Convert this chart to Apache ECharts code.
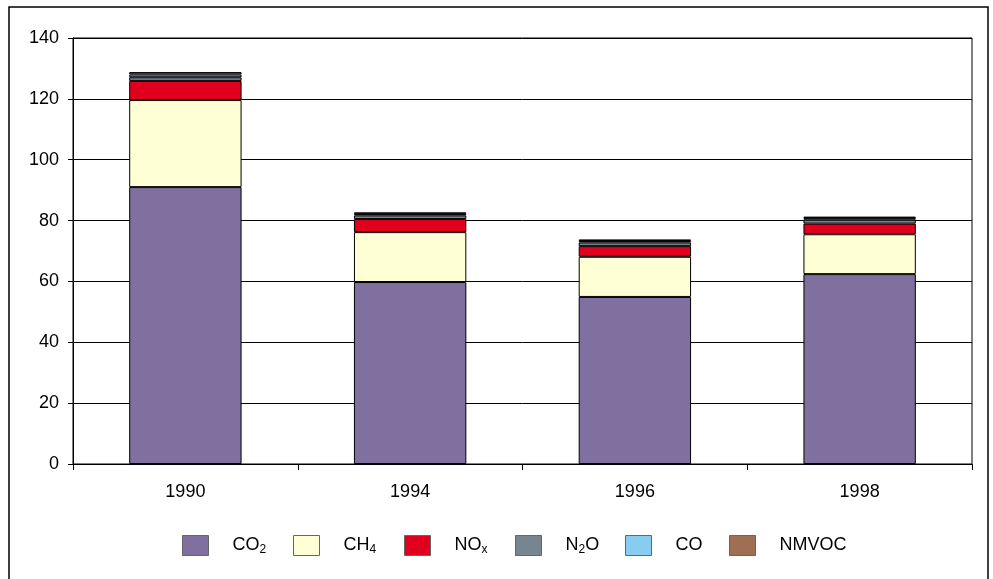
<!DOCTYPE html>
<html><head><meta charset="utf-8">
<script src="https://cdn.jsdelivr.net/npm/echarts@6/dist/echarts.min.js"></script>
<style>html,body{margin:0;padding:0;background:#fff}#c{width:993px;height:579px}</style>
</head><body><div id="c"></div>
<script>
const years = ['1990', '1994', '1996', '1998'];
const seriesNames = ['CO2', 'CH4', 'NOx', 'N2O', 'CO', 'NMVOC'];
const co2 = [91.0, 59.8, 54.9, 62.4];
const ch4 = [28.6, 16.4, 13.2, 13.1];
const nox = [6.3, 4.3, 3.5, 3.5];
const n2o = [1.2, 1.2, 1.2, 1.3];
const co = [0.9, 0.5, 0.5, 0.5];
const nmvoc = [0.8, 0.5, 0.5, 0.5];
const yTicks = [0, 20, 40, 60, 80, 100, 120, 140];

const colors = ['#8070a0', '#ffffd6', '#e0001e', '#768590', '#88ccf2', '#a06e54'];
const dataArr = [co2, ch4, nox, n2o, co, nmvoc];
const legendLeft = [182, 293, 404, 515, 625, 729];
const labelRich = {
  'CO2': '{g|}CO{s|2}', 'CH4': '{g|}CH{s|4}', 'NOx': '{g|}NO{s|x}', 'N2O': '{g|}N{s|2}O', 'CO': '{g|}CO', 'NMVOC': '{g|}NMVOC'
};
const font = 'Liberation Sans, Arial, sans-serif';

const chart = echarts.init(document.getElementById('c'));
chart.setOption({
  animation: false,
  backgroundColor: '#fff',
  graphic: [{
    type: 'rect', shape: {x: 9, y: 7, width: 979, height: 620},
    style: {fill: 'none', stroke: '#000', lineWidth: 1.5}, silent: true
  }],
  grid: {left: 73, right: 21, top: 38, bottom: 115, show: true, borderColor: '#000', borderWidth: 1, backgroundColor: 'transparent'},
  legend: seriesNames.map((n, i) => ({
    left: legendLeft[i], top: 535, itemWidth: 26, itemHeight: 20, padding: 0,
    icon: 'rect',
    data: [n],
    formatter: nm => labelRich[nm],
    itemStyle: {borderColor: '#666', borderWidth: 1},
    textStyle: {
      fontFamily: font, fontSize: 18, color: '#000',
      rich: {
        g: {width: 19},
        s: {fontSize: 12, fontFamily: font, color: '#000', padding: [9, 0, 0, 0]}
      }
    }
  })),
  xAxis: {
    type: 'category', data: years,
    axisLine: {lineStyle: {color: '#000', width: 1}},
    axisTick: {show: true, alignWithLabel: false, length: 6, lineStyle: {color: '#000'}},
    axisLabel: {fontFamily: font, fontSize: 18, color: '#000', margin: 19}
  },
  yAxis: {
    type: 'value', min: 0, max: 140, interval: 20,
    axisLine: {show: true, lineStyle: {color: '#000'}},
    axisTick: {show: true, length: 5, lineStyle: {color: '#000'}},
    splitLine: {lineStyle: {color: '#000', width: 1}},
    axisLabel: {fontFamily: font, fontSize: 18, color: '#000', margin: 14,
      formatter: v => yTicks.includes(v) ? String(v) : ''}
  },
  series: seriesNames.map((n, i) => ({
    name: n, type: 'bar', stack: 'total', barWidth: '50%',
    data: dataArr[i],
    itemStyle: {color: colors[i], borderColor: '#000', borderWidth: 1}
  }))
});
</script></body></html>
